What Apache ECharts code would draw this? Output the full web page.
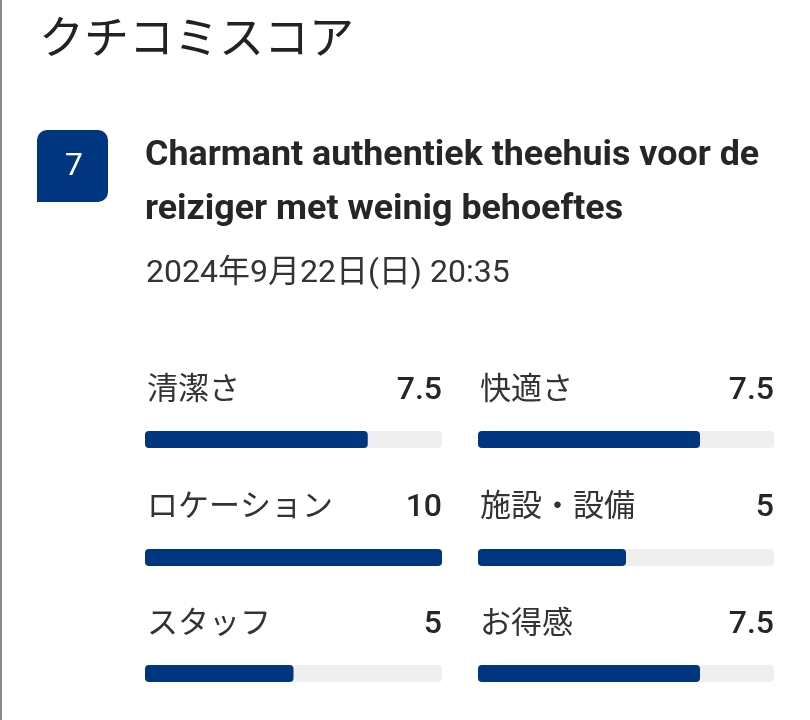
<!DOCTYPE html>
<html>
<head>
<meta charset="utf-8">
<script src="https://cdn.jsdelivr.net/npm/echarts@6/dist/echarts.min.js"></script>
<style>
  html, body { margin: 0; padding: 0; background: #fff; }
  #main { width: 810px; height: 720px; }
</style>
</head>
<body>
<div id="main"></div>
<script>
// クチコミスコア data
const categories = ['清潔さ', '快適さ', 'ロケーション', '施設・設備', 'スタッフ', 'お得感'];
const scores = [7.5, 7.5, 10, 5, 5, 7.5];
const maxScore = 10;
const overallScore = 7;
const reviewTitle = ['Charmant authentiek theehuis voor de', 'reiziger met weinig behoeftes'];
const reviewDate = '2024年9月22日(日) 20:35';

const BLUE = '#003580';
const TRACK = '#efefef';
const FONT = 'Roboto, "Noto Sans CJK JP", sans-serif';

let chart = echarts.init(document.getElementById('main'), null, { renderer: 'canvas' });

// 2列 x 3行
const colLeft = [145, 478];
const colWidth = [297, 296];
const rowTop = [431, 549, 665];
const labelY = [391, 508, 625];
const barH = 17;

let grids = [], xAxes = [], yAxes = [], series = [], texts = [];

categories.forEach(function (name, i) {
  let col = i % 2;
  let row = Math.floor(i / 2);
  let left = colLeft[col];
  let top = rowTop[row];
  grids.push({ left: left, top: top, width: colWidth[col], height: barH });
  xAxes.push({ gridIndex: i, type: 'value', min: 0, max: maxScore, show: false });
  yAxes.push({ gridIndex: i, type: 'category', data: [name], show: false });
  series.push({
    type: 'bar',
    xAxisIndex: i,
    yAxisIndex: i,
    data: [scores[i]],
    barWidth: barH,
    showBackground: true,
    backgroundStyle: { color: TRACK, borderRadius: 4 },
    itemStyle: { color: BLUE, borderRadius: 4 },
    silent: true
  });
  // カテゴリ名
  texts.push({
    type: 'text', x: left + 2, y: labelY[row],
    style: { text: name, font: '400 31px ' + FONT, fill: '#333333', verticalAlign: 'middle' }
  });
  // スコア
  texts.push({
    type: 'text', x: left + colWidth[col], y: labelY[row],
    style: { text: String(scores[i]), font: '500 32px ' + FONT, fill: '#262626', align: 'right', verticalAlign: 'middle' }
  });
});

let option = {
  backgroundColor: '#ffffff',
  animation: false,
  grid: grids,
  xAxis: xAxes,
  yAxis: yAxes,
  series: series,
  graphic: [
    // 左の枠線
    { type: 'rect', shape: { x: 0, y: 0, width: 2, height: 720 }, style: { fill: '#8c8c8c' } },
    { type: 'text', x: 39, y: 43, style: { text: 'クチコミスコア', font: '400 45px ' + FONT, fill: '#222222', verticalAlign: 'middle' } },
    // 総合スコアのバッジ
    { type: 'rect', shape: { x: 37, y: 130, width: 71, height: 72, r: [10, 10, 10, 0] }, style: { fill: BLUE } },
    { type: 'text', x: 74, y: 167, style: { text: String(overallScore), font: '400 32px ' + FONT, fill: '#ffffff', align: 'center', verticalAlign: 'middle' } },
    { type: 'text', x: 145, y: 156, style: { text: reviewTitle[0], font: 'bold 35.8px ' + FONT, fill: '#262626', verticalAlign: 'middle' } },
    { type: 'text', x: 145, y: 210, style: { text: reviewTitle[1], font: 'bold 35.8px ' + FONT, fill: '#262626', verticalAlign: 'middle' } },
    { type: 'text', x: 146, y: 274, style: { text: reviewDate, font: '400 32px ' + FONT, fill: '#333333', verticalAlign: 'middle' } }
  ].concat(texts)
};

chart.setOption(option);
</script>
</body>
</html>
